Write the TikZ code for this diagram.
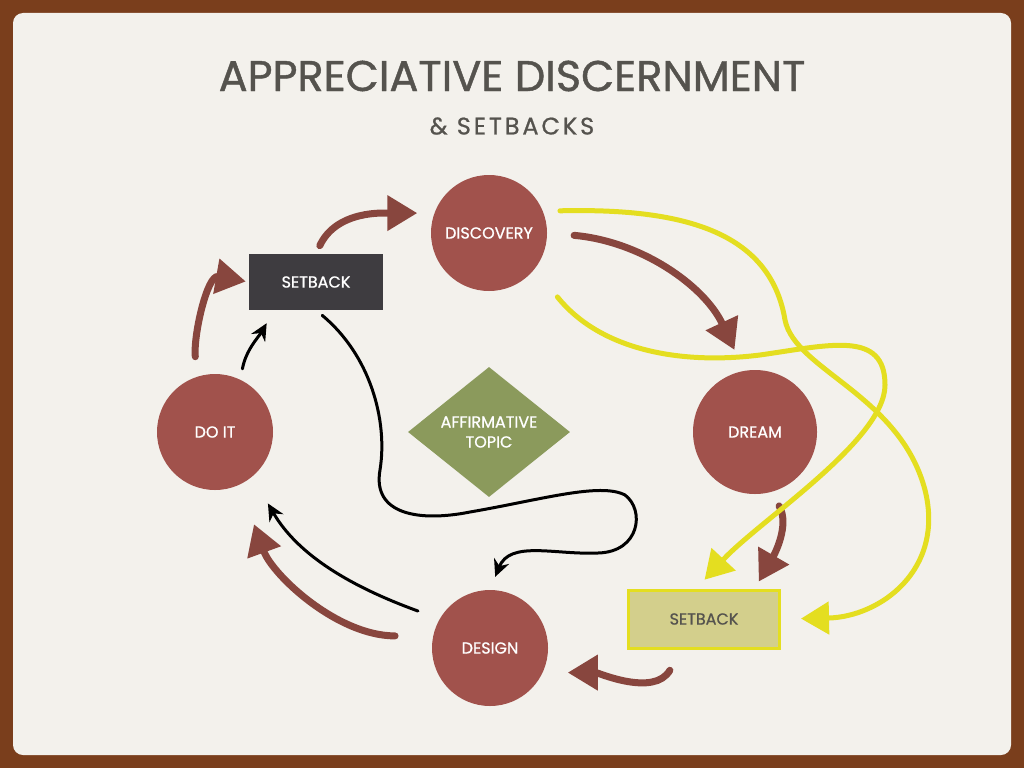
\documentclass[tikz,border=0pt]{standalone}
\usepackage{fontspec}
\setmainfont{Poppins}
\newfontfamily\titlefont[FakeBold=1]{Poppins}
\newfontfamily\labelfont[FakeBold=0.8]{Poppins}
\newfontfamily\subtitlefont[LetterSpace=12,FakeBold=0.8]{Poppins}
\usetikzlibrary{arrows.meta,shapes.geometric,positioning}
\definecolor{frameColor}{RGB}{122,62,28}
\definecolor{paperColor}{RGB}{243,241,236}
\definecolor{titleColor}{RGB}{85,83,78}
\definecolor{phaseColor}{RGB}{161,82,76}
\definecolor{arrowColor}{RGB}{136,70,62}
\definecolor{darkboxColor}{RGB}{62,60,64}
\definecolor{topicColor}{RGB}{139,154,92}
\definecolor{paleboxColor}{RGB}{211,207,140}
\definecolor{yellowColor}{RGB}{228,222,32}
\tikzset{phase/.style={circle, fill=phaseColor, text=white, minimum size=116pt, inner sep=0pt, font=\labelfont\fontsize{16}{19}\selectfont}}
\tikzset{setback/.style={rectangle, minimum width=134pt, minimum height=56pt, inner sep=0pt, font=\labelfont\fontsize{16}{19}\selectfont}}
\tikzstyle{brownarrow} = [draw=arrowColor, line width=7pt, line cap=round, -{Triangle[length=30pt,width=34pt]}]
\tikzstyle{inkarrow} = [draw=black, line width=3pt, line cap=round, -{Stealth[length=17pt,width=16pt]}]
\tikzstyle{yellowarrow} = [draw=yellowColor, line width=5pt, line cap=round, -{Triangle[length=28pt,width=32pt]}]

\begin{document}
\begin{tikzpicture}[x=1pt, y=-1pt]
	% Page
	\useasboundingbox (0,0) rectangle (1024,768);
	\fill[frameColor] (0,0) rectangle (1024,768);
	\fill[paperColor, rounded corners=10pt] (13,13) rectangle (1011,755);

	% Nodes
		\node (title) [text=titleColor, font=\titlefont\fontsize{43}{47}\selectfont] at (512,76) {APPRECIATIVE DISCERNMENT};
		\node (subtitle) [text=titleColor, font=\subtitlefont\fontsize{24}{28}\selectfont, below=19pt of title] {\& SETBACKS};
		\node (discovery) [phase] at (489,233) {DISCOVERY};
		\node (dream) [phase, minimum size=124pt] at (755,432) {DREAM};
		\node (design) [phase] at (490,648) {DESIGN};
		\node (doit) [phase] at (215,432) {DO IT};
		\node (setbackA) [setback, fill=darkboxColor, text=white] at (316,282) {SETBACK};
		\node (setbackB) [setback, minimum width=151pt, minimum height=58pt, fill=paleboxColor, draw=yellowColor, line width=3pt, text=titleColor] at (704,619) {SETBACK};
		\node (topic) [diamond, fill=topicColor, text=white, inner sep=0pt, minimum width=162pt, minimum height=130pt, align=center, font=\labelfont\fontsize{16}{20}\selectfont] at (489,432) {AFFIRMATIVE\\TOPIC};

	% Connectors
	\begin{scope}
		\draw [brownarrow, shorten <=20pt, shorten >=3pt] (doit.108) to[out=95, in=170] (setbackA.west);
		\draw [brownarrow, shorten <=9pt, shorten >=17pt] (setbackA.north) to[out=65, in=180] (discovery.160);
		\draw [brownarrow, shorten <=27pt, shorten >=23pt] (discovery.0) to[out=-5, in=115] (dream.100);
		\draw [brownarrow, shorten <=16pt, shorten >=8pt] (dream.-75) to[out=-60, in=60] (setbackB.31);
		\draw [brownarrow, shorten <=24pt, shorten >=25pt] (setbackB.-126) to[out=-120, in=0] (design.-25);
		\draw [brownarrow, shorten <=38pt, shorten >=42pt] (design.168) to[out=180, in=-70] (doit.-65);

		\draw [inkarrow, shorten <=23pt, shorten >=31pt] (design.150) to[out=160, in=-60] (doit.-50);
		\draw [inkarrow, shorten <=11pt, shorten >=15pt] (doit.64) to[out=80, in=-120] (setbackA.-146);
		\draw [inkarrow, shorten <=8pt, shorten >=14pt] (setbackA.south) .. controls (370,355) and (388,420) .. (380,470)
			.. controls (372,515) and (420,522) .. (470,512)
			.. controls (540,500) and (600,482) .. (625,495)
			.. controls (645,510) and (640,552) .. (598,553)
			.. controls (555,555) and (510,540) .. (design.north);

		\draw [yellowarrow, shorten <=17pt, shorten >=20pt] (discovery.22) .. controls (680,208) and (770,230) .. (785,320)
			.. controls (795,370) and (900,395) .. (925,490)
			.. controls (945,570) and (880,617) .. (setbackB.east);
		\draw [yellowarrow, shorten <=36pt, shorten >=12pt] (discovery.-38) .. controls (600,350) and (680,365) .. (760,355)
			.. controls (830,345) and (885,330) .. (885,385)
			.. controls (885,440) and (760,520) .. (setbackB.104);
	\end{scope}
\end{tikzpicture}
\end{document}
